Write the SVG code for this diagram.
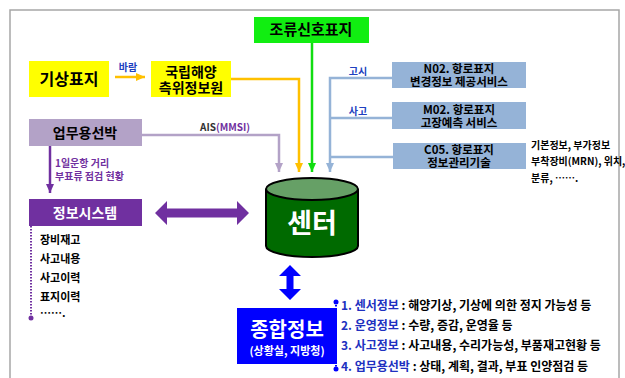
<svg xmlns="http://www.w3.org/2000/svg" width="625" height="378" viewBox="0 0 625 378">
<style>
text{font-family:"Noto Sans CJK KR","Noto Sans",sans-serif;font-weight:bold;}
.c{text-anchor:middle;}
.blk{fill:#000;}
.wht{fill:#fff;}
.lbl{fill:#2040c0;font-size:10px;}
.ln{fill:none;stroke-width:2.5;}
</style>
<defs>
<marker id="aO" markerUnits="userSpaceOnUse" markerWidth="8" markerHeight="9" refX="4" refY="9" viewBox="0 0 8 9"><path d="M0,0 L8,0 L4,9 Z" fill="#ffc000"/></marker>
<marker id="aG" markerUnits="userSpaceOnUse" markerWidth="8" markerHeight="9" refX="4" refY="9" viewBox="0 0 8 9"><path d="M0,0 L8,0 L4,9 Z" fill="#11dd11"/></marker>
<marker id="aL" markerUnits="userSpaceOnUse" markerWidth="8" markerHeight="9" refX="4" refY="9" viewBox="0 0 8 9"><path d="M0,0 L8,0 L4,9 Z" fill="#b3a2c7"/></marker>
<marker id="aB" markerUnits="userSpaceOnUse" markerWidth="8" markerHeight="9" refX="4" refY="9" viewBox="0 0 8 9"><path d="M0,0 L8,0 L4,9 Z" fill="#95b3d7"/></marker>
<marker id="aP" markerUnits="userSpaceOnUse" markerWidth="8" markerHeight="9" refX="4" refY="9" viewBox="0 0 8 9"><path d="M0,0 L8,0 L4,9 Z" fill="#7030a0"/></marker>
<marker id="aOr" markerUnits="userSpaceOnUse" markerWidth="9" markerHeight="8" refX="9" refY="4" viewBox="0 0 9 8"><path d="M0,0 L9,4 L0,8 Z" fill="#ffc000"/></marker>
</defs>
<rect x="10" y="10" width="609" height="380" fill="none" stroke="#a6a6a6" stroke-width="1.5"/>

<g id="connectors">
<line x1="115" y1="77" x2="145" y2="77" class="ln" stroke="#ffc000" stroke-width="2" marker-end="url(#aOr)"/>
<polyline points="231,79 299,79 299,172" class="ln" stroke="#ffc000" marker-end="url(#aO)"/>
<line x1="312" y1="43" x2="312" y2="172" class="ln" stroke="#11dd11" marker-end="url(#aG)"/>
<polyline points="142,135 279,135 279,172" class="ln" stroke="#b3a2c7" marker-end="url(#aL)"/>
<polyline points="392,78 330,78 330,172" class="ln" stroke="#95b3d7" marker-end="url(#aB)"/>
<line x1="330" y1="118" x2="392" y2="118" class="ln" stroke="#95b3d7"/>
<line x1="330" y1="157" x2="393" y2="157" class="ln" stroke="#95b3d7"/>
<line x1="50" y1="146" x2="50" y2="193" class="ln" stroke="#7030a0" stroke-width="2" marker-end="url(#aP)"/>
<polygon points="155,213 167,201 167,208.5 237,208.5 237,201 249,213 237,225 237,217.5 167,217.5 167,225" fill="#7030a0"/>
<polygon points="290,265 301,276 293.5,276 293.5,289 301,289 290,300 279,289 286.5,289 286.5,276 279,276" fill="#0000ff"/>
<line x1="31" y1="226" x2="31" y2="318" stroke="#7030a0" stroke-width="2" stroke-dasharray="1.5,1.5"/>
<circle cx="31" cy="318" r="2.5" fill="#7030a0"/>
<line x1="336" y1="302" x2="336" y2="369" stroke="#0000ff" stroke-width="2" stroke-dasharray="1.5,1.5"/>
<circle cx="336" cy="302" r="2.5" fill="#0000ff"/>
<circle cx="336" cy="369" r="2.5" fill="#0000ff"/>
<text x="128" y="71" class="c lbl">바람</text>
<text x="200" y="131" font-size="10" fill="#333">AIS<tspan fill="#7030a0">(MMSI)</tspan></text>
<text x="358" y="75" class="c lbl">고시</text>
<text x="358" y="115" class="c lbl">사고</text>
<text x="55" y="167" font-size="10" fill="#7030a0">1일운항 거리</text>
<text x="55" y="180" font-size="10" fill="#7030a0">부표류 점검 현황</text>
</g>

<g id="tide">
<rect x="254" y="17" width="115" height="26" fill="#11ee11"/>
<text x="311" y="35" class="c blk" font-size="15">조류신호표지</text>
</g>
<g id="weather">
<rect x="29" y="61" width="80" height="36" fill="#ffff00"/>
<text x="69" y="85" class="c blk" font-size="16">기상표지</text>
</g>
<g id="nmpnt">
<rect x="151" y="61" width="80" height="36" fill="#ffff00"/>
<text x="191" y="77" class="c blk" font-size="14">국립해양</text>
<text x="191" y="93" class="c blk" font-size="14">측위정보원</text>
</g>
<g id="ship">
<rect x="29" y="119" width="113" height="27" fill="#b3a2c7"/>
<text x="85" y="138" class="c blk" font-size="14">업무용선박</text>
</g>
<g id="infosys">
<rect x="29" y="199" width="113" height="27" fill="#7030a0"/>
<text x="85" y="218" class="c wht" font-size="14">정보시스템</text>
<text x="40" y="244" class="blk" font-size="11">장비재고</text>
<text x="40" y="263" class="blk" font-size="11">사고내용</text>
<text x="40" y="282" class="blk" font-size="11">사고이력</text>
<text x="40" y="301" class="blk" font-size="11">표지이력</text>
<text x="40" y="317" class="blk" font-size="11">…….</text>
</g>
<g id="n02">
<rect x="392" y="62" width="134" height="26" fill="#95b3d7"/>
<text x="459" y="73" class="c blk" font-size="11.5">N02. 항로표지</text>
<text x="459" y="86" class="c blk" font-size="11.5">변경정보 제공서비스</text>
</g>
<g id="m02">
<rect x="392" y="102" width="134" height="27" fill="#95b3d7"/>
<text x="459" y="114" class="c blk" font-size="11.5">M02. 항로표지</text>
<text x="459" y="127" class="c blk" font-size="11.5">고장예측 서비스</text>
</g>
<g id="c05">
<rect x="393" y="143" width="133" height="26" fill="#95b3d7"/>
<text x="459" y="154" class="c blk" font-size="11.5">C05. 항로표지</text>
<text x="459" y="167" class="c blk" font-size="11.5">정보관리기술</text>
<text x="531" y="149" class="blk" font-size="10">기본정보, 부가정보</text>
<text x="531" y="165" class="blk" font-size="10">부착장비(MRN), 위치,</text>
<text x="531" y="182" class="blk" font-size="10">분류, …….</text>
</g>
<g id="center">
<path d="M266,189 L266,246 A46,11 0 0 0 358,246 L358,189" fill="#006a00" stroke="#000" stroke-width="2"/>
<ellipse cx="312" cy="189" rx="46" ry="11" fill="#66a066" stroke="#000" stroke-width="2"/>
<text x="312" y="233" class="c wht" font-size="27">센터</text>
</g>
<g id="integrated">
<rect x="237" y="308" width="100" height="56" fill="#0000ff"/>
<text x="287" y="337" class="c wht" font-size="20">종합정보</text>
<text x="287" y="355" class="c wht" font-size="11">(상황실, 지방청)</text>
<text x="341" y="310" class="blk" font-size="12"><tspan fill="#2030c0">1. 센서정보</tspan> : 해양기상, 기상에 의한 정지 가능성 등</text>
<text x="341" y="330" class="blk" font-size="12"><tspan fill="#2030c0">2. 운영정보</tspan> : 수량, 증감, 운영율 등</text>
<text x="341" y="350" class="blk" font-size="12"><tspan fill="#2030c0">3. 사고정보</tspan> : 사고내용, 수리가능성, 부품재고현황 등</text>
<text x="341" y="371" class="blk" font-size="12"><tspan fill="#2030c0">4. 업무용선박</tspan> : 상태, 계획, 결과, 부표 인양점검 등</text>
</g>
</svg>
